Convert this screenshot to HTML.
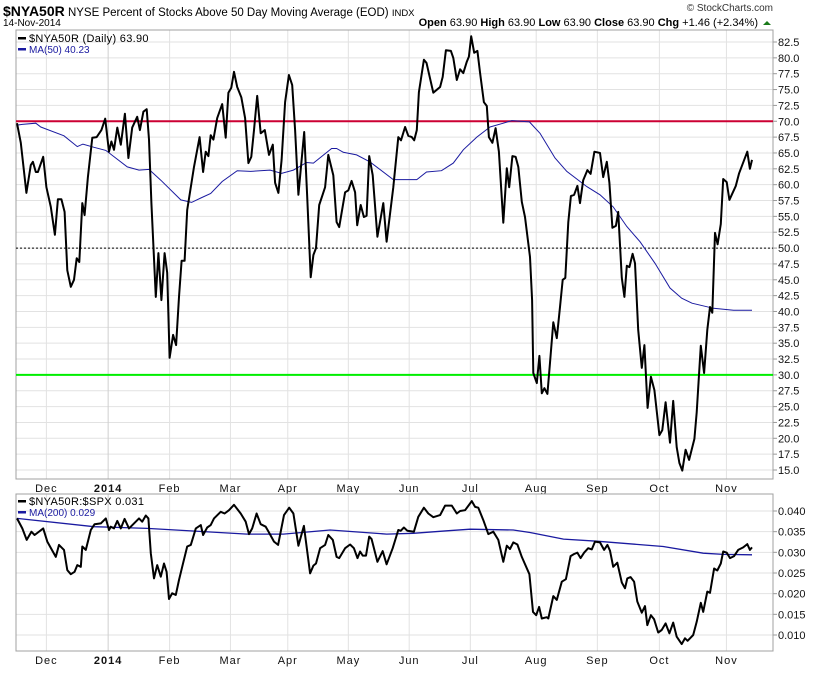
<!DOCTYPE html>
<html><head><meta charset="utf-8">
<style>
html,body{margin:0;padding:0;background:#fff;}
body{width:820px;height:668px;overflow:hidden;font-family:"Liberation Sans",Arial,sans-serif;}
svg text{font-family:"Liberation Sans",Arial,sans-serif;}
</style></head>
<body>
<svg id="chart" width="820" height="668" viewBox="0 0 820 668" xmlns="http://www.w3.org/2000/svg">
  <text x="3" y="16" font-size="11.5"><tspan font-weight="bold" font-size="14">$NYA50R</tspan> NYSE Percent of Stocks Above 50 Day Moving Average (EOD) <tspan font-size="9.5">INDX</tspan></text>
  <text x="3" y="26" font-size="10">14-Nov-2014</text>
  <text x="773" y="11" font-size="10" text-anchor="end" fill="#333">© StockCharts.com</text>
  <text x="758" y="26" font-size="11" text-anchor="end"><tspan font-weight="bold">Open</tspan> 63.90 <tspan font-weight="bold">High</tspan> 63.90 <tspan font-weight="bold">Low</tspan> 63.90 <tspan font-weight="bold">Close</tspan> 63.90 <tspan font-weight="bold">Chg</tspan> +1.46 (+2.34%)</text>
  <path d="M763,25 L767,21 L771,25 Z" fill="#1a7a1a"/>
  <g id="main"></g>
  <g id="lower"></g>
</svg>
<script>
// ---- data ----
const monthLabels = ["Dec","2014","Feb","Mar","Apr","May","Jun","Jul","Aug","Sep","Oct","Nov"];
const monthDays = [10,31,51.9,72.6,92.1,112.7,133.4,154.2,176.6,197.4,218.5,241.3];
const mainTicks = [15,17.5,20,22.5,25,27.5,30,32.5,35,37.5,40,42.5,45,47.5,50,52.5,55,57.5,60,62.5,65,67.5,70,72.5,75,77.5,80,82.5];
const lowerTicks = [0.010,0.015,0.020,0.025,0.030,0.035,0.040];

const priceDays = [0,1.3,3.2,4.7,5.4,6.4,7.1,8.9,10,11.5,12.9,13.9,15.1,16.2,17.1,18.3,19.4,20.3,21.2,22.2,23,24.1,25.6,27.1,28.7,30,31.3,32.1,33,34.1,35.3,36.7,37.9,39.2,40.9,41.8,43,44.1,44.9,45.7,47.2,48.1,49.1,50.2,51.1,51.9,53.1,54.1,55.1,56,57,57.9,60.2,62.1,63.3,64.2,65.1,65.9,66.8,68.1,69.8,71,71.9,72.9,73.8,74.9,76.3,77.6,78.7,79.7,80.6,81.7,82.9,84.3,85.7,87,87.8,88.9,90,91.2,92.5,93.6,94.6,95.7,97.7,98.7,99.9,100.8,101.7,102.8,104,104.8,105.9,107.6,108.7,109.6,111.6,112.7,113.8,115,115.7,116.9,118,118.9,119.8,121,122.6,124.6,125.7,128,129.7,130.6,132,133.1,134.3,135.1,136,136.7,138.4,139.3,141.6,143.9,144.8,145.9,147.6,148.4,149.6,150.7,151.8,153,153.7,154.5,155.5,156.6,157.5,158.8,159.8,160.5,161.7,162.8,163.9,165.4,166.6,167.4,168.5,169.6,170.5,171.7,172.8,174.5,175.2,175.6,176.8,177.7,178.5,179.4,180.4,181.3,182.4,183.6,184.7,185.6,186.5,187.5,188.4,189.5,190.6,191.5,192.6,194,195.1,196.4,198.3,199.4,200.6,201.5,202.5,203.7,204.5,205.7,206.6,207.4,208.3,209.4,210.2,211.3,212.5,213.4,214.5,215.6,216.8,218.5,219.5,220.6,222.1,223.2,224.4,225.3,226.3,227.4,228.6,230.4,231.2,232.6,233.7,234.8,235.7,236.5,237.4,238.3,239.4,240.2,241.4,242.3,244.5,245.6,248.4,249.3,250];
const priceValues = [69.7,66.6,58.7,63.1,63.6,62.0,62.0,64.4,59.6,56.5,52.1,57.7,57.7,55.7,46.5,43.9,45.0,48.4,47.8,57.1,55.2,61.2,67.4,67.5,68.6,70.4,65.2,66.8,65.5,69.0,66.3,71.2,64.2,69.0,70.7,68.6,71.5,71.9,67.1,57.1,42.3,49.2,41.8,49.2,46.1,32.7,36.3,34.7,42.3,48.0,48.0,56.0,62.8,67.5,62.0,65.2,64.5,67.8,67.1,70.5,72.7,67.4,74.5,75.3,77.8,75.4,73.8,70.5,63.4,64.4,68.6,74.0,68.1,68.6,64.7,66.3,60.3,58.7,63.9,73.0,77.3,75.7,68.6,58.4,68.3,58.1,45.4,48.9,50.0,56.8,58.5,59.6,64.7,61.5,54.1,53.3,58.8,59.1,60.6,58.8,53.6,56.8,54.9,55.1,64.5,61.5,51.8,57.1,51.0,59.6,67.5,67.0,69.1,67.7,67.5,67.0,68.6,74.6,79.7,79.2,74.5,75.4,77.0,81.2,81.1,80.0,76.5,78.2,77.6,79.4,80.2,83.4,80.8,81.1,77.6,73.0,72.4,67.5,66.6,68.9,65.2,54.0,62.6,59.6,64.5,64.4,62.8,57.3,54.9,48.6,41.8,30.3,28.7,33.0,27.1,27.9,27.0,31.9,38.3,35.8,40.7,45.0,45.3,54.1,58.2,58.4,59.8,57.1,60.7,62.3,61.7,65.2,65.0,61.2,63.6,60.3,53.2,53.5,55.7,45.3,42.3,47.2,47.0,49.1,47.6,37.1,31.1,34.7,24.8,29.7,27.6,20.5,21.3,25.7,19.3,25.9,18.6,16.1,14.9,18.2,16.6,19.9,24.1,34.6,30.3,37.1,40.7,39.8,52.4,50.6,53.8,60.9,60.4,57.6,59.8,61.8,65.2,62.5,63.9];

const maDays = [0,1.8,6.4,8.1,16,20.5,22.4,26.2,30.2,37.5,41.5,44.9,48.9,55.7,59.4,62.5,65.9,69.8,74.9,79.5,86.1,90,94,98.5,100.8,107,108.7,111,115.5,120,128,131.4,136,139.3,144.4,148.4,151.8,156.4,160.9,165.4,168.3,174.3,177.9,183,187,193.8,198.3,202.8,207.4,211.9,217,222.1,226.1,229.6,236.9,243.7,250];
const maValues = [69.4,69.5,69.7,69.1,67.7,66.0,66.4,65.9,65.4,62.8,62.3,62.4,60.7,57.6,57.2,57.9,58.6,60.5,62.2,62.1,62.3,61.8,62.3,63.5,63.4,65.7,65.7,65.1,64.7,63.6,60.8,60.8,60.8,62.0,62.2,63.4,65.5,67.5,69.1,69.7,70.1,69.9,68.1,64.2,62.1,59.7,58.4,56.5,53.4,51.0,47.6,43.7,42.1,41.3,40.5,40.2,40.2];

const ratioDays = [0,1.8,3.3,4.9,6,7.1,8.9,10.3,13.2,14.3,16,17.1,18.3,19.6,20.5,21.7,22.2,23.4,25.1,26.4,28.5,30.2,31.3,31.9,33,34.1,35.3,36.6,38.1,39.8,41.5,42.6,43.8,44.7,45.5,46.6,47.7,48.9,50,50.9,51.7,52.8,54,55.1,56.2,57.9,59.1,60.8,62.5,63.3,64.7,65.9,67,69.3,70.6,72.1,73.8,76.1,77.8,78.9,80,81.5,82.9,84.6,85.7,87.4,88.8,90.8,92.6,94,95.7,97.6,99.7,100.8,101.7,103.1,104.8,105.9,107.4,108.7,109.6,111.6,113.3,114.6,115.8,116.7,117.6,118.7,119.8,120.6,122.6,124.4,125.7,127.8,129.7,130.5,131.6,132.8,135,136.5,138.4,139.9,141.6,143.9,145.6,147.9,149.6,150.7,152.4,154.7,155.8,156.9,158.6,160.3,162,163.7,165.4,166.6,167.7,168.8,170.2,171.7,174.3,175.5,176.6,177.6,178.5,180.2,180.7,182.4,183.6,185.3,186.7,188.3,189.5,190.6,191.7,192.9,194.3,195.5,196.6,198.3,199.7,200.8,201.7,202.8,204.2,205.7,206.8,207.6,208.7,209.9,211,212.5,213.6,214.4,215.6,216.7,218.1,219.3,220.6,221.9,223.2,224.4,226.1,227.2,228.1,230,231.2,232.6,233.4,234.8,235.7,237.1,238.2,239.4,240.2,241.4,242.5,243.9,245.3,247,248.4,249.3,250];
const ratioValues = [0.0382,0.0358,0.0330,0.0350,0.0342,0.0348,0.0358,0.0326,0.0289,0.0318,0.0306,0.0257,0.0247,0.0253,0.0269,0.0265,0.0314,0.0306,0.0354,0.0368,0.0370,0.0382,0.0354,0.0362,0.0358,0.0376,0.0358,0.0381,0.0358,0.0370,0.0382,0.0374,0.0389,0.0382,0.0298,0.0237,0.0269,0.0241,0.0273,0.0253,0.0187,0.0201,0.0197,0.0233,0.0265,0.0314,0.0318,0.0358,0.0366,0.0342,0.0360,0.0366,0.0382,0.0398,0.0394,0.0402,0.0415,0.0394,0.0374,0.0344,0.0358,0.0394,0.0368,0.0362,0.0348,0.0326,0.0318,0.0390,0.0408,0.0394,0.0316,0.0364,0.0249,0.0268,0.0273,0.0310,0.0318,0.0342,0.0330,0.0289,0.0286,0.0310,0.0319,0.0310,0.0286,0.0302,0.0292,0.0292,0.0338,0.0332,0.0277,0.0303,0.0271,0.0310,0.0354,0.0352,0.0360,0.0352,0.0350,0.0386,0.0408,0.0394,0.0385,0.0390,0.0413,0.0413,0.0394,0.0400,0.0402,0.0424,0.0410,0.0408,0.0378,0.0344,0.0350,0.0330,0.0277,0.0316,0.0308,0.0324,0.0319,0.0289,0.0247,0.0156,0.0148,0.0168,0.0140,0.0143,0.0140,0.0194,0.0185,0.0229,0.0235,0.0291,0.0296,0.0299,0.0286,0.0299,0.0310,0.0307,0.0326,0.0324,0.0306,0.0318,0.0304,0.0265,0.0275,0.0227,0.0213,0.0237,0.0240,0.0229,0.0181,0.0154,0.0170,0.0124,0.0148,0.0138,0.0106,0.0112,0.0128,0.0104,0.0130,0.0096,0.0078,0.0092,0.0086,0.0100,0.0132,0.0178,0.0156,0.0205,0.0202,0.0261,0.0256,0.0273,0.0302,0.0299,0.0286,0.0291,0.0306,0.0312,0.0320,0.0306,0.0312];

const ma200Days = [0,26.2,44.3,78.3,90.6,106.5,125.7,134.8,146.2,154.1,168.8,174.5,185.9,197.2,219.8,233.4,240.2,250];
const ma200Values = [0.0382,0.0362,0.0358,0.0344,0.0344,0.0354,0.0344,0.0346,0.0352,0.0356,0.0354,0.0348,0.0332,0.0327,0.0314,0.0298,0.0295,0.0294];

// ---- geometry ----
const NS = "http://www.w3.org/2000/svg";
const PL = 16, PR = 773;
const X0 = 17, X1 = 752, D0 = 0, D1 = 250;
const M = {top:30, bottom:479};
const L = {top:494, bottom:651};
function xs(d){ return X0 + (d - D0) * (X1 - X0) / (D1 - D0); }
function ym(v){ return 470 - (v - 15) * (470 - 42) / (82.5 - 15); }
function yl(v){ return 635 - (v - 0.010) * (635 - 511) / (0.040 - 0.010); }

function mk(tag, attrs, parent){
  const el = document.createElementNS(NS, tag);
  for (const k in attrs) el.setAttribute(k, attrs[k]);
  parent.appendChild(el);
  return el;
}
function pathOf(days, vals, yf){
  return days.map((d,i)=> (i?"L":"M") + xs(d).toFixed(1) + "," + yf(vals[i]).toFixed(1)).join(" ");
}

const gMain = document.getElementById("main");
const gLow = document.getElementById("lower");

function panel(g, top, bottom, ticks, yf, fmt, prefix){
  ticks.forEach(t=>{
    const y = yf(t);
    const ln = mk("line",{x1:PL,x2:PR,y1:y,y2:y,stroke:"#e2e2e2","stroke-width":1}, g);
    
    
    const tk = mk("line",{x1:PR,x2:PR+4,y1:y,y2:y,stroke:"#999","stroke-width":1}, g);
    
    
    const tx = mk("text",{x:PR+5,y:y+4,"font-size":"11",fill:"#111"}, g);
    tx.textContent = fmt(t);
    
    
  });
  monthDays.forEach((d,i)=>{
    const x = xs(d);
    const vl = mk("line",{x1:x,x2:x,y1:top,y2:bottom,stroke:i===1?"#cfcfcf":"#e2e2e2","stroke-width":1}, g);
    
    
    const lt = mk("text",{x:x,y:bottom+13,"font-size":"11","text-anchor":"middle",fill:"#111","letter-spacing":"1"}, g);
    if (i===1) lt.setAttribute("font-weight","bold");
    lt.textContent = monthLabels[i];
    
    
  });
  const fr = mk("rect",{x:PL,y:top,width:PR-PL,height:bottom-top,fill:"none",stroke:"#a0a0a0","stroke-width":1}, g);
  
  
}

panel(gMain, M.top, M.bottom, mainTicks, ym, t=>t.toFixed(1), 'main');
panel(gLow, L.top, L.bottom, lowerTicks, yl, t=>t.toFixed(3), 'ratio');

let r;
r = mk("line",{x1:PL,x2:PR,y1:ym(50),y2:ym(50),stroke:"#000","stroke-width":1,"stroke-dasharray":"2,2"}, gMain);


r = mk("line",{x1:PL,x2:PR,y1:ym(70),y2:ym(70),stroke:"#cc0033","stroke-width":2}, gMain);


r = mk("line",{x1:PL,x2:PR,y1:ym(30),y2:ym(30),stroke:"#00ee00","stroke-width":2}, gMain);



let p;
p = mk("path",{d:pathOf(maDays,maValues,ym),fill:"none",stroke:"#1a1aa0","stroke-width":1}, gMain);


p = mk("path",{d:pathOf(priceDays,priceValues,ym),fill:"none",stroke:"#000","stroke-width":2,"stroke-linejoin":"round"}, gMain);


p = mk("path",{d:pathOf(ma200Days,ma200Values,yl),fill:"none",stroke:"#1a1aa0","stroke-width":1.3}, gLow);


p = mk("path",{d:pathOf(ratioDays,ratioValues,yl),fill:"none",stroke:"#000","stroke-width":2,"stroke-linejoin":"round"}, gLow);



function legend(g, x, y, color, txt, name, mono){
  const b = mk("rect",{x:x,y:y-5,width:8,height:2.5,fill:color}, g);
  
  
  const t = mk("text",{x:x+11,y:y,"font-size":mono?"11":"10",fill:color,"letter-spacing":mono?"0.3":"0"}, g);
  t.textContent = txt;
  
  
}
legend(gMain, 18, 42, "#000", "$NYA50R (Daily) 63.90", "legend-nya50r", true);
legend(gMain, 18, 53, "#1a1aa0", "MA(50) 40.23", "legend-ma50", false);
legend(gLow, 18, 505, "#000", "$NYA50R:$SPX 0.031", "legend-ratio", true);
legend(gLow, 18, 516, "#1a1aa0", "MA(200) 0.029", "legend-ma200", false);
</script>
</body></html>
